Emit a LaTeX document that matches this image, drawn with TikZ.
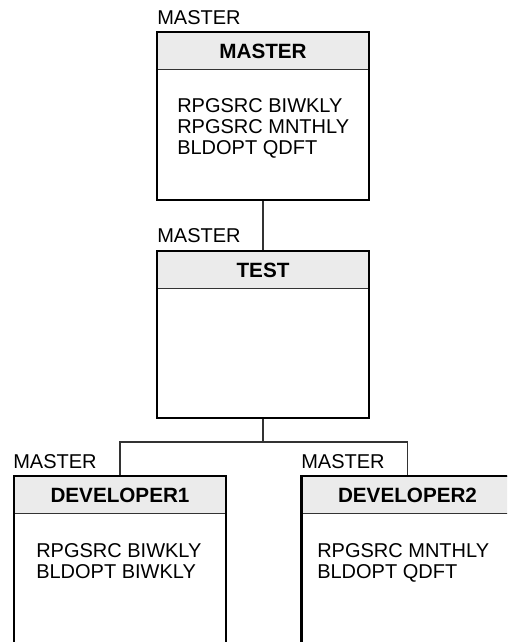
\documentclass[tikz,border=0pt]{standalone}
\usepackage{fontspec}
\setmainfont{Liberation Sans}
\definecolor{hdrgray}{HTML}{EBEBEB}
\definecolor{linegray}{HTML}{333333}
\begin{document}
\begin{tikzpicture}[x=0.75pt,y=-0.75pt,
  font=\fontsize{15}{15.4}\selectfont,
  frame/.style={draw=black,line width=1.9pt,rectangle,minimum width=159pt,inner sep=0pt},
  hdr/.style={draw=linegray,line width=0.7pt,fill=hdrgray,rectangle,minimum width=159pt,minimum height=27.75pt,
    inner sep=0pt,font=\fontsize{15.5}{16}\selectfont\bfseries,text height=11pt,text depth=0pt,anchor=north},
  lbl/.style={anchor=base west,inner sep=0pt},
  conn/.style={draw=linegray,line width=0.8pt}]
\useasboundingbox (0,0) rectangle (507,642);
\clip (0,0) rectangle (507,642);
% MASTER box
\node[hdr] (h1) at (263,32) {MASTER};
\node[frame,minimum height=126pt] (master) at (263,116) {};
\node[lbl] (l1) at (157,25) {MASTER};
\node[lbl] (m1) at (177,113) {RPGSRC BIWKLY};
\node[lbl] (m2) at (177,133.5) {RPGSRC MNTHLY};
\node[lbl] (m3) at (177,154) {BLDOPT QDFT};
% TEST box
\node[hdr] (h2) at (263,251) {TEST};
\node[frame,minimum height=125.25pt] (test) at (263,334.5) {};
\node[lbl] (l2) at (157,242) {MASTER};
% DEVELOPER1
\node[hdr] (h3) at (120,476) {DEVELOPER1};
\node[frame,minimum height=150pt] (dev1) at (120,576) {};
\node[lbl] (l3) at (13,468) {MASTER};
\node[lbl] (d11) at (36,557) {RPGSRC BIWKLY};
\node[lbl] (d12) at (36,578) {BLDOPT BIWKLY};
% DEVELOPER2
\node[hdr] (h4) at (407.5,476) {DEVELOPER2};
\node[frame,minimum height=150pt] (dev2) at (407.5,576) {};
\node[lbl] (l4) at (301,468) {MASTER};
\node[lbl] (d21) at (317,557) {RPGSRC MNTHLY};
\node[lbl] (d22) at (317,578) {BLDOPT QDFT};
% connectors
\coordinate (j) at (263,442);
\draw[conn] (master.south) -- (test.north);
\draw[conn] (test.south) -- (j);
\draw[conn] (dev1.north) -- (dev1.north |- j) -- (dev2.north |- j) -- (dev2.north);
\end{tikzpicture}
\end{document}
